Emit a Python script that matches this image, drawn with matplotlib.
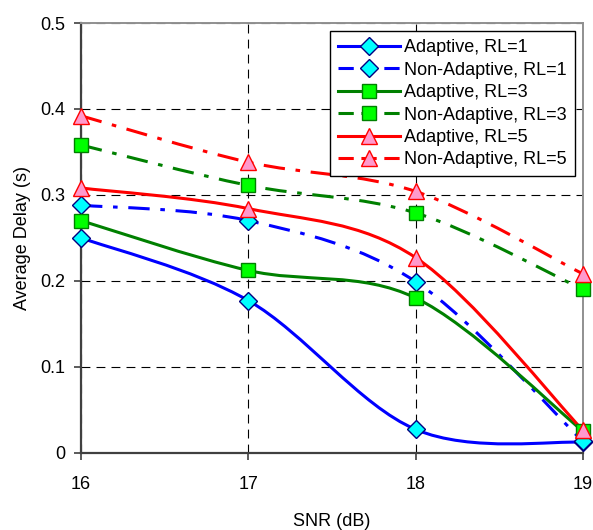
import numpy as np
import matplotlib
matplotlib.use("Agg")
import matplotlib.pyplot as plt
from matplotlib.path import Path
from matplotlib.patches import PathPatch
from matplotlib.lines import Line2D

plt.rcParams['font.family'] = ['Liberation Sans', 'DejaVu Sans']

# ---- data ----
snr = [16, 17, 18, 19]
adaptive_rl1 = [0.250, 0.177, 0.027, 0.012]
nonadaptive_rl1 = [0.288, 0.270, 0.199, 0.013]
adaptive_rl3 = [0.270, 0.212, 0.180, 0.025]
nonadaptive_rl3 = [0.358, 0.311, 0.279, 0.190]
adaptive_rl5 = [0.308, 0.284, 0.227, 0.026]
nonadaptive_rl5 = [0.392, 0.338, 0.304, 0.208]
labels = ["Adaptive, RL=1", "Non-Adaptive, RL=1",
          "Adaptive, RL=3", "Non-Adaptive, RL=3",
          "Adaptive, RL=5", "Non-Adaptive, RL=5"]
x_ticks = [16, 17, 18, 19]
y_ticks = [0, 0.1, 0.2, 0.3, 0.4, 0.5]

series = [adaptive_rl1, nonadaptive_rl1, adaptive_rl3,
          nonadaptive_rl3, adaptive_rl5, nonadaptive_rl5]

# styles: (line colour, marker, face, edge, dashed?)
styles = [
    ("#0000ff", "D", "#00ffff", "#000080", False),
    ("#0000ff", "D", "#00ffff", "#000080", True),
    ("#008000", "s", "#00ff00", "#008000", False),
    ("#008000", "s", "#00ff00", "#008000", True),
    ("#ff0000", "^", "#ff99cc", "#ff0000", False),
    ("#ff0000", "^", "#ff99cc", "#ff0000", True),
]
msize = {"D": 9, "s": 9.5, "^": 11}
LW = 2.2
DASHDOT = (0, (7, 3.5, 1.5, 3.5))


def smooth_path(xs, ys):
    # Excel-like smoothed line: Catmull-Rom as cubic bezier segments
    pts = np.column_stack([xs, ys]).astype(float)
    ext = np.vstack([pts[0], pts, pts[-1]])
    verts = [pts[0]]
    codes = [Path.MOVETO]
    for i in range(len(pts) - 1):
        p0, p1, p2, p3 = ext[i], ext[i + 1], ext[i + 2], ext[i + 3]
        c1 = p1 + (p2 - p0) / 6.0
        c2 = p2 - (p3 - p1) / 6.0
        verts += [c1, c2, p2]
        codes += [Path.CURVE4] * 3
    return Path(verts, codes)


fig = plt.figure(figsize=(5.93, 5.30), dpi=100)
ax = fig.add_axes([0.1366, 0.146, 0.8464, 0.8106])

handles = []
for i, (ys, (col, mk, fc, ec, dashed)) in enumerate(zip(series, styles)):
    ls = DASHDOT if dashed else "-"
    patch = PathPatch(smooth_path(snr, ys), fill=False, edgecolor=col,
                      linewidth=LW, linestyle=ls, zorder=3 + i * 0.1)
    ax.add_patch(patch)
    ax.plot(snr, ys, linestyle="none", marker=mk, markersize=msize[mk],
            markerfacecolor=fc, markeredgecolor=ec, markeredgewidth=1.0,
            zorder=5 + i * 0.1, clip_on=False)
    handles.append(Line2D([], [], color=col, linewidth=LW,
                          linestyle=(0, (5, 2.5)) if dashed else "-",
                          marker=mk, markersize=msize[mk],
                          markerfacecolor=fc, markeredgecolor=ec,
                          markeredgewidth=1.0))

ax.set_xlim(16, 19)
ax.set_ylim(0, 0.5)
ax.set_xticks(x_ticks)
ax.set_yticks(y_ticks)
ax.set_yticklabels([f"{v:g}" for v in y_ticks])
ax.tick_params(direction="out", length=5, width=1.2, color="#404040",
               labelsize=13, pad=6)
ax.tick_params(axis="x", pad=12)
ax.grid(True, color="black", linestyle=(0, (8, 5.5)), linewidth=0.8)
ax.set_axisbelow(True)
for side in ("left", "bottom"):
    ax.spines[side].set_color("#404040")
    ax.spines[side].set_linewidth(1.6)
for side in ("top", "right"):
    ax.spines[side].set_color("#909090")
    ax.spines[side].set_linewidth(1.4)

ax.set_xlabel("SNR (dB)", fontsize=13, labelpad=14)
ax.set_ylabel("Average Delay (s)", fontsize=13, labelpad=7)

leg = ax.legend(handles, labels, loc="upper right", fontsize=13,
                numpoints=1, handlelength=3.4, handletextpad=0.25,
                labelspacing=0.30, borderpad=0.45, borderaxespad=0.45,
                fancybox=False, framealpha=1, edgecolor="black")
leg.get_frame().set_linewidth(1.0)
leg.set_zorder(10)

fig.savefig("out.png", dpi=100)
